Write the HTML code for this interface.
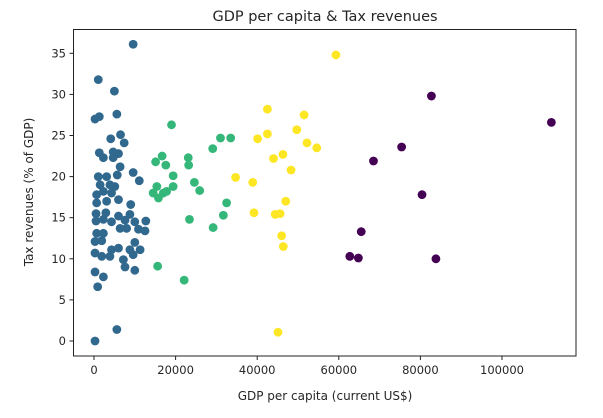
<!DOCTYPE html>
<html><head><meta charset="utf-8"><style>
body{margin:0;background:#fff;}
svg text{font-family:"DejaVu Sans","Liberation Sans",sans-serif;fill:#262626;}
</style></head><body>
<svg id="chart" width="603" height="413" xmlns="http://www.w3.org/2000/svg">
<text x="325" y="21" font-size="14.5" text-anchor="middle">GDP per capita &amp; Tax revenues</text>
<g id="pts"></g>
<rect x="73.5" y="29.5" width="502.5" height="326.5" fill="none" stroke="#222" stroke-width="1"/>
<g id="xt"></g>
<g id="yt"></g>
<text x="325" y="400" font-size="12" text-anchor="middle">GDP per capita (current US$)</text>
<text transform="translate(33,192) rotate(-90)" font-size="12" text-anchor="middle">Tax revenues (% of GDP)</text>
</svg>
<script>
const xTicks=[0,20000,40000,60000,80000,100000];
const yTicks=[0,5,10,15,20,25,30,35];
const purpleX=[82700,112100,75400,68500,80400,65500,62700,64800,83800];
const purpleY=[29.8,26.6,23.6,21.9,17.8,13.3,10.3,10.1,10.0];
const yellowX=[59300,42500,51500,49700,40100,42500,52200,54600,44000,46300,48300,34700,38900,39200,47000,44400,45600,46000,46400,45100];
const yellowY=[34.8,28.2,27.5,25.7,24.6,25.2,24.1,23.5,22.2,22.7,20.8,19.9,19.3,15.6,17.0,15.4,15.5,12.8,11.5,1.06];
const greenX=[19000,31000,33500,29100,16700,15100,17600,23100,23200,19400,19400,24600,25900,15400,14500,15800,17800,17000,32500,31700,23400,29200,15600,22100];
const greenY=[26.3,24.7,24.7,23.4,22.5,21.8,21.4,22.3,21.4,20.1,18.8,19.3,18.3,18.8,18.0,17.4,18.2,18.0,16.8,15.3,14.8,13.8,9.1,7.4];
const blueX=[9600,1050,5000,250,1300,5600,6500,4100,7400,1300,2300,4700,6000,4700,6400,5700,9600,11100,1050,3100,1500,3900,5100,2300,4300,650,6000,650,3100,9000,500,2900,6000,8800,12700,500,2300,4300,7600,10000,6400,8000,10900,12500,650,2300,250,1900,4300,6000,10000,11300,8800,250,1900,3900,7200,9600,250,2300,7600,10000,900,5600,250];
const blueY=[36.1,31.8,30.4,27.0,27.3,27.6,25.1,24.6,24.1,22.9,22.3,23.0,22.8,22.3,21.2,20.2,20.5,19.5,20.0,20.0,19.0,19.0,18.8,18.2,18.0,17.8,17.2,16.8,17.0,16.6,15.5,15.6,15.2,15.4,14.6,14.6,14.8,14.5,14.7,14.5,13.7,13.7,13.6,13.4,13.1,13.1,12.1,12.2,11.1,11.3,12.0,11.1,11.1,10.7,10.3,10.3,9.9,10.5,8.4,7.8,9.0,8.6,6.6,1.4,0.0];
const NS="http://www.w3.org/2000/svg";
function sx(v){return 94+v*(81.6/20000);}
function sy(v){return 341-v*(41.1/5);}
const pts=document.getElementById('pts');
function draw(xs,ys,col,name){
 for(let i=0;i<xs.length;i++){
  const c=document.createElementNS(NS,'circle');
  c.setAttribute('cx',sx(xs[i]));c.setAttribute('cy',sy(ys[i]));c.setAttribute('r',4.4);c.setAttribute('fill',col);
  
  
  pts.appendChild(c);
 }
}
draw(blueX,blueY,'#31688e','point-cluster-blue');
draw(greenX,greenY,'#35b779','point-cluster-green');
draw(yellowX,yellowY,'#fde725','point-cluster-yellow');
draw(purpleX,purpleY,'#440154','point-cluster-purple');
const xt=document.getElementById('xt');
xTicks.forEach(t=>{
 const l=document.createElementNS(NS,'line');
 l.setAttribute('x1',sx(t));l.setAttribute('x2',sx(t));l.setAttribute('y1',356);l.setAttribute('y2',360);l.setAttribute('stroke','#222');
 
 
 xt.appendChild(l);
 const tx=document.createElementNS(NS,'text');
 tx.setAttribute('x',sx(t));tx.setAttribute('y',374);tx.setAttribute('font-size','11.5');tx.setAttribute('text-anchor','middle');
 tx.textContent=t;
 
 
 xt.appendChild(tx);
});
const yt=document.getElementById('yt');
yTicks.forEach(t=>{
 const l=document.createElementNS(NS,'line');
 l.setAttribute('x1',69.5);l.setAttribute('x2',73.5);l.setAttribute('y1',sy(t));l.setAttribute('y2',sy(t));l.setAttribute('stroke','#222');
 
 
 yt.appendChild(l);
 const tx=document.createElementNS(NS,'text');
 tx.setAttribute('x',66);tx.setAttribute('y',sy(t)+4);tx.setAttribute('font-size','11.5');tx.setAttribute('text-anchor','end');
 tx.textContent=t;
 
 
 yt.appendChild(tx);
});
</script>
</body></html>
